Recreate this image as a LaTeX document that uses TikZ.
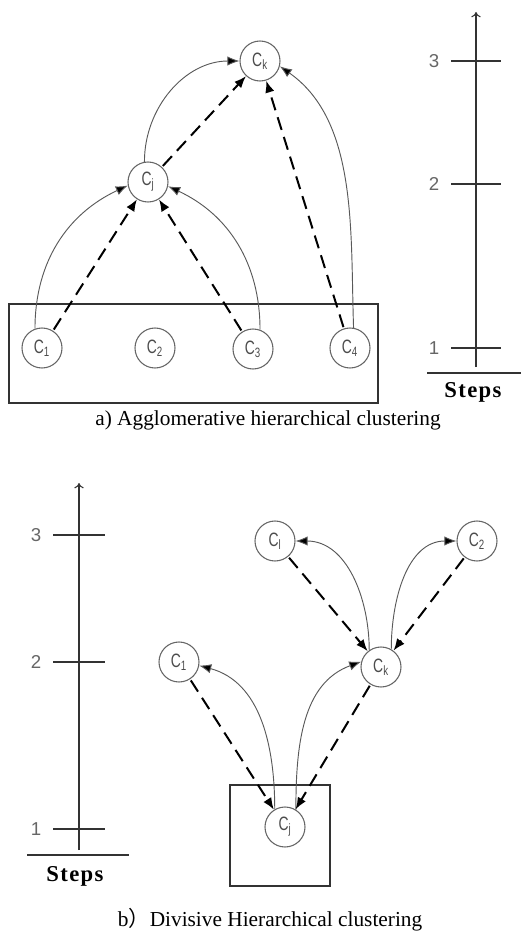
\documentclass[tikz,border=0pt]{standalone}
\usepackage{fontspec}
\setmainfont{Liberation Serif}
\setsansfont{Liberation Sans}
\newfontfamily\cjk{Noto Sans CJK SC}
\newfontfamily\nodefont{Liberation Sans}[FakeStretch=0.72]
\newfontfamily\stepsfont{Liberation Serif}[LetterSpace=6]
\usetikzlibrary{arrows.meta}
\begin{document}
\begin{tikzpicture}[x=0.75pt,y=-0.75pt,
  cl/.style={circle,draw=black!60,line width=0.8pt,minimum size=30pt,inner sep=0pt,
    font=\nodefont\fontsize{14.5}{14.5}\selectfont,text=black!70},
  sol/.style={draw=black!65,line width=0.7pt,-{Latex[length=9pt,width=7pt,fill=black]}},
  dsh/.style={draw=black,line width=1.5pt,dash pattern=on 10pt off 5.5pt,
    shorten <=1pt,-{Latex[length=9pt,width=7pt]}},
  box/.style={draw=black!80,line width=0.8pt},
  axis/.style={draw=black!80,line width=0.8pt},
  tickl/.style={font=\sffamily\fontsize{14}{14}\selectfont,text=black!60},
  steps/.style={font=\stepsfont\bfseries\fontsize{17}{17}\selectfont},
  captxt/.style={font=\fontsize{16}{16}\selectfont}]
\useasboundingbox (0,0) rectangle (521,934);

% ---------- a) Agglomerative ----------
\draw[box] (9,304) rectangle (378,403);
\node[cl] (a1) at (42,348) {C\textsubscript{1}};
\node[cl] (a2) at (155,348) {C\textsubscript{2}};
\node[cl] (a3) at (253,349) {C\textsubscript{3}};
\node[cl] (a4) at (350,348) {C\textsubscript{4}};
\node[cl] (aj) at (148,182) {C\textsubscript{j}};
\node[cl] (ak) at (260,61) {C\textsubscript{k}};

\draw[sol] (a1.110) to[out=90,in=205] (aj.190);
\draw[sol] (a3.70) to[out=90,in=-25] (aj.-12);
\draw[sol] (aj.100) to[out=90,in=180] (ak.west);
\draw[sol] (a4.80) to[out=92,in=-35,looseness=0.9] (ak.-15);
\draw[dsh] (a1) -- (aj);
\draw[dsh] (a3) -- (aj);
\draw[dsh] (aj) -- (ak);
\draw[dsh] (a4) -- (ak);

% axis a
\coordinate (atop) at (476,12);
\coordinate (abot) at (476,367);
\draw[axis,-{To[length=4pt,width=7pt]}] (abot) -- (atop);
\foreach \y/\l/\n in {61/3/t3,184/2/t2,348/1/t1}{
  \coordinate (a\n l) at (451,\y);
  \coordinate (a\n r) at (501,\y);
  \draw[axis] (a\n l) -- (a\n r);
  \node[tickl,anchor=east] (a\n lab) at (444,\y) {\l};
}
\coordinate (abl) at (427,373);
\coordinate (abr) at (521,373);
\draw[axis] (abl) -- (abr);
\node[steps] (asteps) at (473,392) {Steps};
\node[captxt] (capa) at (268,420) {a) Agglomerative hierarchical clustering};

% ---------- b) Divisive ----------
\draw[box] (230,785) rectangle (330,886);
\node[cl] (bj) at (285,827) {C\textsubscript{j}};
\node[cl] (b1) at (179,662) {C\textsubscript{1}};
\node[cl] (bk) at (381,667) {C\textsubscript{k}};
\node[cl] (bl) at (275,541) {C\textsubscript{l}};
\node[cl] (b2) at (477,541) {C\textsubscript{2}};

\draw[sol] (bk.125) to[out=90,in=0] (bl.east);
\draw[sol] (bk.60) to[out=90,in=180] (b2.west);
\draw[sol] (bj.120) to[out=90,in=-15] (b1.-10);
\draw[sol] (bj.58) to[out=90,in=200] (bk.165);
\draw[dsh] (bl) -- (bk);
\draw[dsh] (b2) -- (bk);
\draw[dsh] (b1) -- (bj);
\draw[dsh] (bk) -- (bj);

% axis b
\coordinate (btop) at (79,483);
\coordinate (bbot) at (79,850);
\draw[axis,-{To[length=4pt,width=7pt]}] (bbot) -- (btop);
\foreach \y/\l/\n in {535/3/t3,662/2/t2,829/1/t1}{
  \coordinate (b\n l) at (53,\y);
  \coordinate (b\n r) at (105,\y);
  \draw[axis] (b\n l) -- (b\n r);
  \node[tickl,anchor=east] (b\n lab) at (46,\y) {\l};
}
\coordinate (bbl) at (27,855);
\coordinate (bbr) at (129,855);
\draw[axis] (bbl) -- (bbr);
\node[steps] (bsteps) at (75,876) {Steps};
\node[captxt] (capb) at (270,920) {b{\cjk ）}Divisive Hierarchical clustering};
\end{tikzpicture}
\end{document}
